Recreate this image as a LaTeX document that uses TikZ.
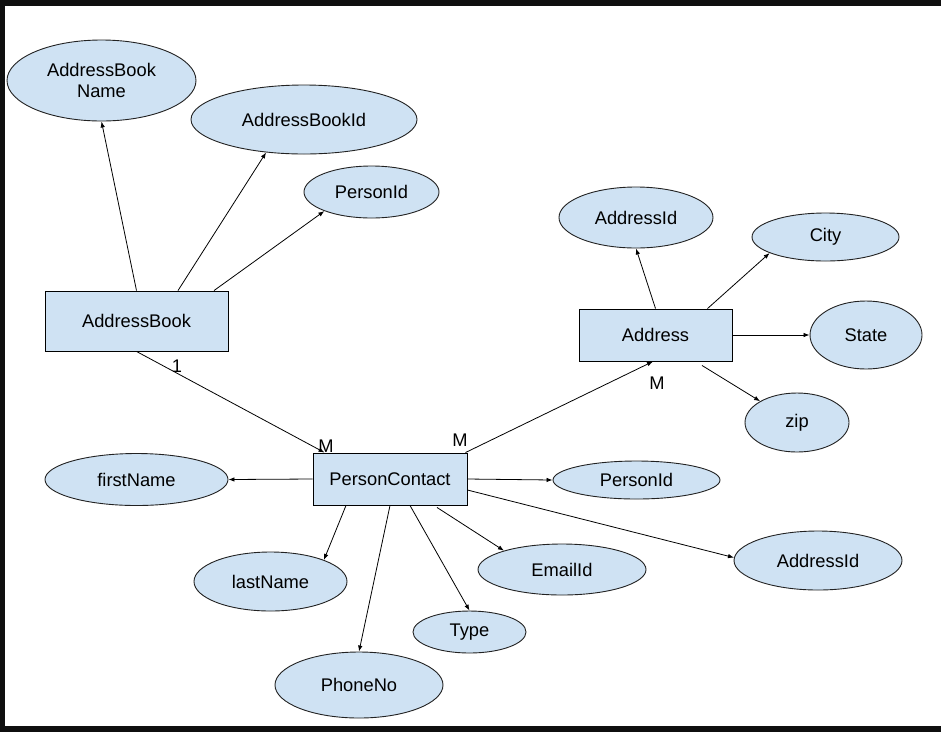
\documentclass[tikz,border=0pt]{standalone}
\usepackage{fontspec}
\setmainfont{Liberation Sans}
\usetikzlibrary{shapes.geometric,arrows.meta}
\definecolor{boxblue}{HTML}{CFE2F3}
\definecolor{edgegray}{HTML}{222222}
\tikzset{
  ent/.style={draw=black, fill=boxblue, line width=0.9pt, rectangle, inner sep=0pt, font=\fontsize{18.3}{21}\selectfont},
  attr/.style={draw=edgegray, fill=boxblue, line width=0.9pt, ellipse, inner sep=0pt, font=\fontsize{18.3}{21}\selectfont},
  conn/.style={draw=black, line width=0.8pt, -{Latex[length=6pt,width=4.5pt]}},
  card/.style={font=\fontsize{18.3}{21}\selectfont, inner sep=0pt}
}
\begin{document}
\begin{tikzpicture}[x=1pt,y=-1pt]
\useasboundingbox (0,0) rectangle (941,732);
\fill[white] (0,0) rectangle (941,732);
\fill[black!94] (0,0) rectangle (941,6);
\fill[black!94] (0,0) rectangle (5,732);
\fill[black!94] (0,726) rectangle (941,732);

% entities
\node[ent, minimum width=183pt, minimum height=60pt] (ab) at (136.5,321) {AddressBook};
\node[ent, minimum width=153pt, minimum height=52pt] (addr) at (655.5,335) {Address};
\node[ent, minimum width=154pt, minimum height=52pt] (pc) at (390,479) {PersonContact};

% attributes
\node[attr, minimum width=189pt, minimum height=81pt, align=center] (abn) at (101.5,80.5) {AddressBook\\Name};
\node[attr, minimum width=226pt, minimum height=69pt] (abid) at (304,119.5) {AddressBookId};
\node[attr, minimum width=135pt, minimum height=52pt] (pid1) at (371.5,192) {PersonId};
\node[attr, minimum width=154pt, minimum height=61pt] (aid1) at (636,217.5) {AddressId};
\node[attr, minimum width=147pt, minimum height=48pt] (city) at (825.5,237) {City};
\node[attr, minimum width=112pt, minimum height=68pt] (state) at (866,335) {State};
\node[attr, minimum width=104pt, minimum height=59pt] (zip) at (797,422.5) {zip};
\node[attr, minimum width=183pt, minimum height=52pt] (fn) at (136.5,479.5) {firstName};
\node[attr, minimum width=167pt, minimum height=38pt] (pid2) at (636.5,480) {PersonId};
\node[attr, minimum width=153pt, minimum height=59pt] (ln) at (270.5,581.5) {lastName};
\node[attr, minimum width=168pt, minimum height=66pt] (phone) at (359,685) {PhoneNo};
\node[attr, minimum width=113pt, minimum height=42pt] (type) at (469.5,632) {Type};
\node[attr, minimum width=168pt, minimum height=51pt] (email) at (562,569.5) {EmailId};
\node[attr, minimum width=168pt, minimum height=59pt] (aid2) at (818,560.5) {AddressId};

% connectors
\draw[conn] (ab.north) -- (abn.south);
\draw[conn] ([xshift=41.5pt]ab.north) -- (abid.221);
\draw[conn] ([xshift=77.5pt]ab.north) -- (pid1.202);
\draw[conn] (ab.south) -- ([xshift=12pt]pc.north west);
\draw[conn] ([xshift=-2pt]pc.north east) -- ([xshift=-2.5pt]addr.south);
\draw[conn] (addr.north) -- (aid1.south);
\draw[conn] ([xshift=52pt]addr.north) -- (city.196);
\draw[conn] (addr.east) -- (state.west);
\draw[conn] ([shift={(46.5pt,-4pt)}]addr.south) -- (zip.150);
\draw[conn] (pc.west) -- (fn.east);
\draw[conn] (pc.east) -- (pid2.west);
\draw[conn] ([yshift=-11pt]pc.east) -- (aid2.178);
\draw[conn] ([xshift=-44pt]pc.south) -- (ln.22);
\draw[conn] (pc.south) -- (phone.north);
\draw[conn] ([xshift=20pt]pc.south) -- (type.north);
\draw[conn] ([shift={(47pt,-2pt)}]pc.south) -- (email.162);

% cardinalities
\node[card] (c1) at (177,366) {1};
\node[card] (cm1) at (326,446) {M};
\node[card] (cm2) at (460,440) {M};
\node[card] (cm3) at (657,383) {M};
\end{tikzpicture}
\end{document}
